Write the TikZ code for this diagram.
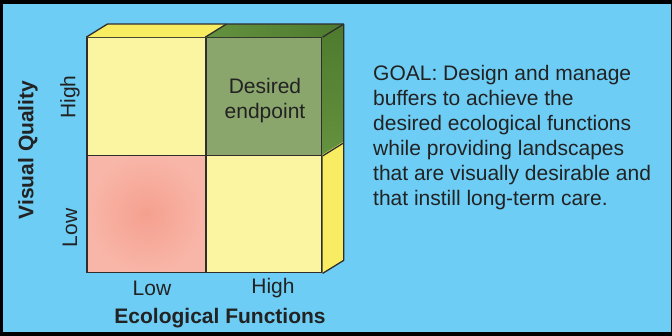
\documentclass[tikz,border=0pt]{standalone}
\usepackage{fontspec}
\setmainfont{Liberation Sans}
\usepackage{tikz}
\usetikzlibrary{calc}
\definecolor{skyBlue}{HTML}{6DCDF5}
\definecolor{paleYellow}{HTML}{FBF4A0}
\definecolor{brightYellow}{HTML}{F7EC62}
\definecolor{sageGreen}{HTML}{8BA66C}
\definecolor{forestGreen}{HTML}{4D7A2D}
\definecolor{forestLight}{HTML}{64923F}
\definecolor{salmonCore}{HTML}{F5A08F}
\definecolor{salmonEdge}{HTML}{F8B6A8}
\definecolor{edgeGray}{HTML}{2E2E2E}
\definecolor{inkGray}{HTML}{222222}

\begin{document}
\begin{tikzpicture}[
    x=1pt, y=1pt,
    font=\fontsize{21}{25}\selectfont,
    cell/.style={draw=edgeGray, line width=1.3pt, minimum width=#1, minimum height=117.5pt, inner sep=0pt},
    cell/.default=118pt,
    face/.style={draw=edgeGray, line width=1.3pt, line join=round},
    axis/.style={font=\fontsize{21}{25}\selectfont\bfseries, text=inkGray},
    tick/.style={text=inkGray},
    goal/.style={text=inkGray, align=left, inner sep=0pt, anchor=north west}
]
\useasboundingbox (0,0) rectangle (672,336);
\fill[black] (0,0) rectangle (672,336);
\fill[skyBlue] (3,4) rectangle (671,332);

% front face of the matrix
\node[cell=119pt, fill=paleYellow] (hiLo) at (146.5,239.5) {};
\node[cell=116pt, fill=sageGreen] (hiHi) at (264,239.5) {};
\node[cell=119pt, shade, inner color=salmonCore, outer color=salmonEdge] (loLo) at (146.5,122) {};
\node[cell=116pt, fill=paleYellow] (loHi) at (264,122) {};
\node[tick, align=center] (endpoint) at (265,235) {Desired\\endpoint};

% top and side faces
\fill[brightYellow] (hiLo.north west) -- (hiLo.north east) -- ++(21,13) -- ($(hiLo.north west)+(21,13)$) -- cycle;
\shade[left color=forestLight, right color=forestGreen] (hiHi.north west) -- (hiHi.north east) -- ++(21,13) -- ($(hiHi.north west)+(21,13)$) -- cycle;
\shade[top color=forestGreen, bottom color=forestLight] (hiHi.north east) -- ++(21,13) -- ($(hiHi.south east)+(21,13)$) -- (hiHi.south east) -- cycle;
\fill[brightYellow] (loHi.north east) -- ++(21,13) -- ($(loHi.south east)+(21,13)$) -- (loHi.south east) -- cycle;
\draw[face] (hiLo.north west) -- ++(21,13) -- ($(hiHi.north east)+(21,13)$) -- ($(loHi.south east)+(21,13)$) -- (loHi.south east);
\draw[face] (hiHi.north west) -- ++(21,13);
\draw[face] (hiHi.north east) -- ++(21,13);
\draw[face] (hiHi.south east) -- ++(21,13);

% axis labels
\node[axis, rotate=90] (vq) at (28,186) {Visual Quality};
\node[tick, rotate=90] (vqHigh) at (70,239) {High};
\node[tick, rotate=90] (vqLow) at (70,108) {Low};
\node[tick] (efLow) at (152,48) {Low};
\node[tick] (efHigh) at (273,48) {High};
\node[axis] (ef) at (220,18) {Ecological Functions};

\node[goal] (goal) at (373,271) {GOAL: Design and manage\\buffers to achieve the\\desired ecological functions\\while providing landscapes\\that are visually desirable and\\that instill long-term care.};
\end{tikzpicture}
\end{document}
